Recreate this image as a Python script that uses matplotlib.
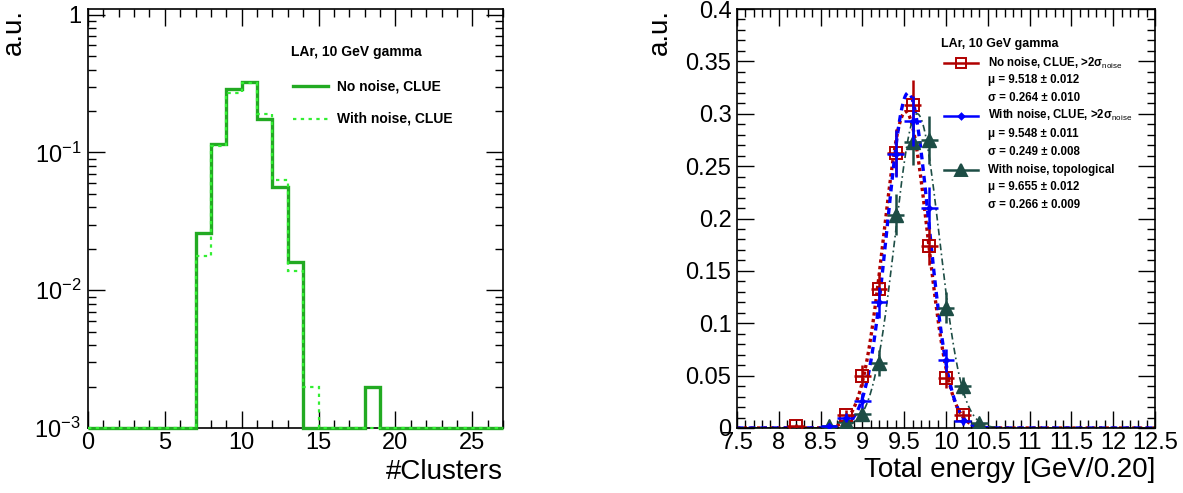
import numpy as np
import matplotlib
matplotlib.use('Agg')
import matplotlib.pyplot as plt
from matplotlib.ticker import FixedLocator, MultipleLocator, FuncFormatter, NullFormatter

plt.rcParams['font.family'] = ['Liberation Sans', 'DejaVu Sans']
plt.rcParams['mathtext.fontset'] = 'custom'
plt.rcParams['mathtext.rm'] = 'Liberation Sans'
plt.rcParams['mathtext.it'] = 'Liberation Sans:italic'
plt.rcParams['mathtext.bf'] = 'Liberation Sans:bold'

# ---- left panel: number of clusters (normalised)
edges = np.arange(0, 28)
no_noise = [0, 0, 0, 0, 0, 0, 0, 0.026, 0.116, 0.288, 0.326, 0.175, 0.056, 0.0159,
            0, 0, 0, 0, 0.002, 0, 0, 0, 0, 0, 0, 0, 0]
with_noise = [0, 0, 0, 0, 0, 0, 0, 0.0178, 0.111, 0.272, 0.320, 0.191, 0.0634, 0.0139,
              0.002, 0, 0, 0, 0, 0, 0, 0, 0, 0, 0, 0, 0]

# ---- right panel: total energy, bins of 0.2 GeV
red_x = [8.2, 8.8, 9.0, 9.2, 9.4, 9.6, 9.8, 10.0, 10.2]
red_y = [0.002, 0.0124, 0.050, 0.133, 0.263, 0.308, 0.174, 0.048, 0.012]
red_e = [0.0019, 0.0048, 0.0097, 0.0158, 0.0223, 0.0241, 0.0181, 0.0095, 0.0048]

blue_x = [8.6, 8.8, 9.0, 9.2, 9.4, 9.6, 9.8, 10.0, 10.2]
blue_y = [0.0022, 0.0100, 0.026, 0.120, 0.262, 0.293, 0.210, 0.0646, 0.0065]
blue_e = [0.0020, 0.0044, 0.0070, 0.0150, 0.0222, 0.0235, 0.0199, 0.0110, 0.0035]

topo_x = [8.6, 8.8, 9.0, 9.2, 9.4, 9.6, 9.8, 10.0, 10.2, 10.4]
topo_y = [0.0016, 0.0054, 0.0134, 0.062, 0.2035, 0.2735, 0.275, 0.115, 0.0398, 0.0048]
topo_e = [0.0017, 0.0032, 0.0050, 0.0120, 0.0196, 0.0227, 0.0228, 0.0147, 0.0087, 0.0030]

# gaussian fits: (amplitude, mu, sigma)
fit_red = (0.302, 9.518, 0.264)
fit_blue = (0.320, 9.548, 0.249)
fit_topo = (0.300, 9.655, 0.266)

c_red = '#b00000'
c_blue = '#0000ff'
c_topo = '#1d4d45'
c_g1 = '#22aa22'
c_g2 = '#33ee33'

def gaus(x, p):
    a, m, s = p
    return a * np.exp(-0.5 * ((x - m) / s) ** 2)

def root_ticks(ax):
    ax.tick_params(which='both', direction='in', top=True, right=True, labelsize=17)
    ax.tick_params(which='major', length=12, width=1)
    ax.tick_params(which='minor', length=6, width=1)
    for s in ax.spines.values():
        s.set_linewidth(1.2)

fig = plt.figure(figsize=(11.83, 4.93), dpi=100)

# left
ax1 = fig.add_axes([88/1183, 65/493, 415/1183, 419/493])
ax1.set_yscale('log')
ax1.set_xlim(0, 27)
ax1.set_ylim(1e-3, 1.1)
ax1.stairs(np.clip(no_noise, 1e-3, None), edges, baseline=None, color=c_g1, lw=2.4,
           clip_on=False, zorder=3)
ax1.stairs(np.clip(with_noise, 1e-3, None), edges, baseline=None, color=c_g2, lw=1.6,
           ls=(0, (1.5, 2)), clip_on=False, zorder=4)
root_ticks(ax1)
ax1.xaxis.set_major_locator(MultipleLocator(5))
ax1.xaxis.set_minor_locator(MultipleLocator(1))
ax1.yaxis.set_major_locator(FixedLocator([1e-3, 1e-2, 1e-1, 1]))
ax1.yaxis.set_major_formatter(FuncFormatter(
    lambda v, p: {1e-3: r'$10^{-3}$', 1e-2: r'$10^{-2}$', 1e-1: r'$10^{-1}$', 1: '1'}.get(v, '')))
ax1.yaxis.set_minor_formatter(NullFormatter())
ax1.tick_params(axis='y', pad=5)
ax1.tick_params(axis='x', pad=3)
ax1.set_ylabel('a.u.', loc='top', fontsize=20)
ax1.yaxis.set_label_coords(-0.147, 1.0)
ax1.set_xlabel('#Clusters', loc='right', fontsize=20)
ax1.xaxis.set_label_coords(1.0, -0.075)

ax1.text(0.489, 0.897, 'LAr, 10 GeV gamma', transform=ax1.transAxes, fontsize=10,
         fontweight='bold', va='center')
ax1.plot([0.494, 0.578], [0.816, 0.816], transform=ax1.transAxes, color=c_g1, lw=2.4)
ax1.text(0.60, 0.816, 'No noise, CLUE', transform=ax1.transAxes, fontsize=10,
         fontweight='bold', va='center')
ax1.plot([0.494, 0.578], [0.7375, 0.7375], transform=ax1.transAxes, color=c_g2, lw=1.6,
         ls=(0, (1.5, 2)))
ax1.text(0.60, 0.7375, 'With noise, CLUE', transform=ax1.transAxes, fontsize=10,
         fontweight='bold', va='center')

# right
ax2 = fig.add_axes([737/1183, 65/493, 418/1183, 419/493])
ax2.set_xlim(7.5, 12.5)
ax2.set_ylim(0, 0.4)
xf = np.linspace(7.5, 12.5, 600)
ax2.plot(xf, gaus(xf, fit_red), color=c_red, lw=2.4, ls=(0, (1, 1)), zorder=2)
ax2.plot(xf, gaus(xf, fit_blue), color=c_blue, lw=2.4, ls=(0, (2, 1.5)), zorder=2)
ax2.plot(xf, gaus(xf, fit_topo), color=c_topo, lw=1.2, ls=(0, (4, 2, 1, 2)), zorder=2)

ax2.errorbar(red_x, red_y, yerr=red_e, xerr=0.1, fmt='s', color=c_red, mfc='none',
             mec=c_red, ms=9, mew=1.4, elinewidth=1.8, capsize=0, zorder=3)
ax2.errorbar(blue_x, blue_y, yerr=blue_e, xerr=0.1, fmt='D', color=c_blue, ms=3,
             elinewidth=1.8, capsize=0, zorder=4)
ax2.errorbar(topo_x, topo_y, yerr=topo_e, xerr=0.1, fmt='^', color=c_topo, ms=10,
             elinewidth=1.8, capsize=0, zorder=3)

root_ticks(ax2)
ax2.xaxis.set_major_locator(MultipleLocator(0.5))
ax2.xaxis.set_minor_locator(MultipleLocator(0.1))
ax2.yaxis.set_major_locator(MultipleLocator(0.05))
ax2.yaxis.set_minor_locator(MultipleLocator(0.01))
ax2.xaxis.set_major_formatter(FuncFormatter(lambda v, p: '%g' % round(v, 2)))
ax2.yaxis.set_major_formatter(FuncFormatter(lambda v, p: '%g' % round(v, 2)))
ax2.tick_params(axis='y', pad=4)
ax2.tick_params(axis='x', pad=3)
ax2.set_ylabel('a.u.', loc='top', fontsize=20)
ax2.yaxis.set_label_coords(-0.153, 1.0)
ax2.set_xlabel('Total energy [GeV/0.20]', loc='right', fontsize=20)
ax2.xaxis.set_label_coords(1.0, -0.069)

T = ax2.transAxes
ax2.text(0.488, 0.916, 'LAr, 10 GeV gamma', transform=T, fontsize=9, fontweight='bold',
         va='center')
rows = [0.871, 0.831, 0.788, 0.745, 0.702, 0.659, 0.616, 0.575, 0.532]
labels = [r'No noise, CLUE, >2σ$_{\rm noise}$', 'μ = 9.518 ± 0.012', 'σ = 0.264 ± 0.010',
          r'With noise, CLUE, >2σ$_{\rm noise}$', 'μ = 9.548 ± 0.011', 'σ = 0.249 ± 0.008',
          'With noise, topological', 'μ = 9.655 ± 0.012', 'σ = 0.266 ± 0.009']
for yy, lab in zip(rows, labels):
    ax2.text(0.600, yy, lab, transform=T, fontsize=8.3, fontweight='bold', va='center')
for yy, col, mk, ms, mfc in [(rows[0], c_red, 's', 7, 'none'), (rows[3], c_blue, 'D', 3, c_blue),
                             (rows[6], c_topo, '^', 9, c_topo)]:
    ax2.plot([0.495, 0.577], [yy, yy], transform=T, color=col, lw=1.8)
    ax2.plot([0.536], [yy], transform=T, marker=mk, ms=ms, color=col, mfc=mfc, mec=col, mew=1.4)

fig.savefig('out.png', dpi=100)
